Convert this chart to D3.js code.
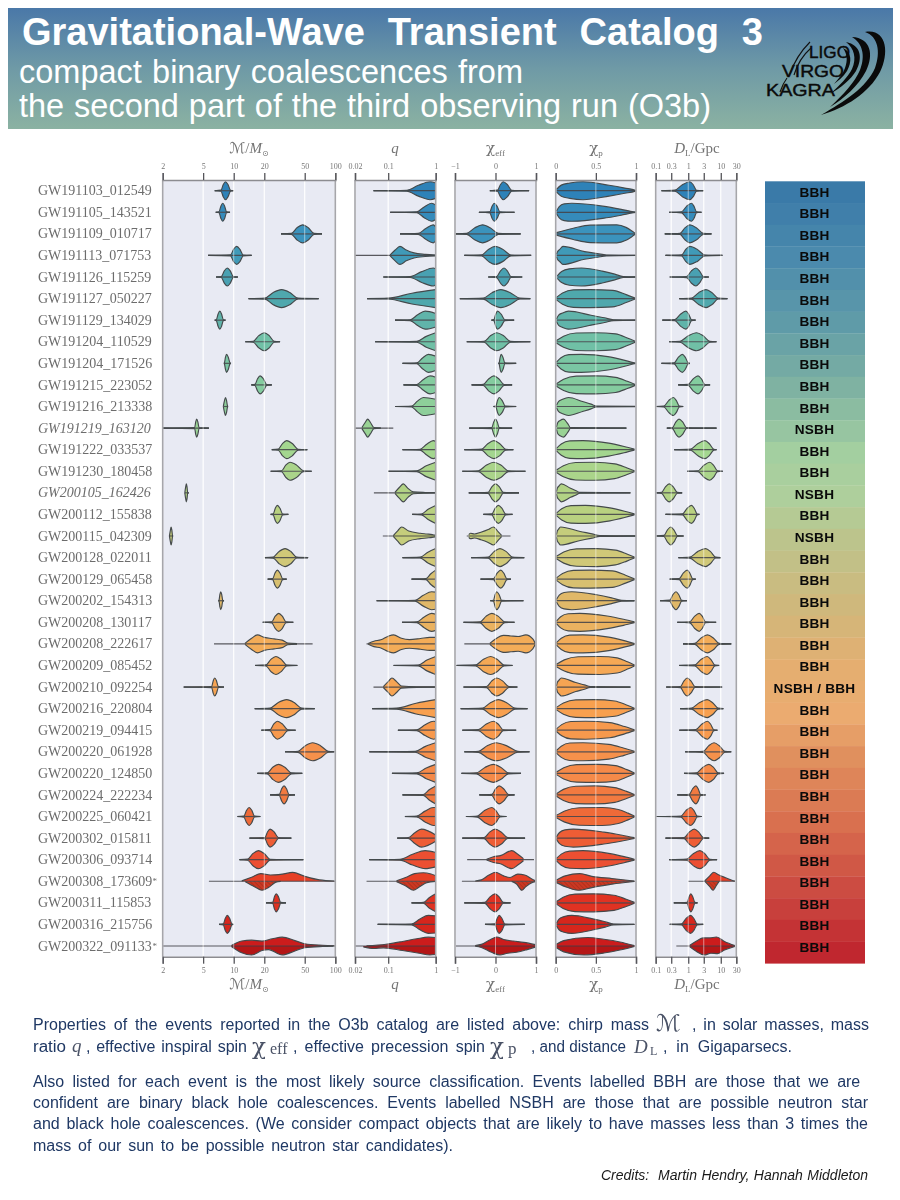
<!DOCTYPE html>
<html><head><meta charset="utf-8">
<script src="https://cdn.jsdelivr.net/npm/d3@7"></script>
<style>html,body{margin:0;padding:0;background:#fff}svg{display:block}</style>
</head><body><svg id="c" width="900" height="1200" viewBox="0 0 900 1200"></svg>
<script>
const events=["GW191103_012549","GW191105_143521","GW191109_010717","GW191113_071753","GW191126_115259","GW191127_050227","GW191129_134029","GW191204_110529","GW191204_171526","GW191215_223052","GW191216_213338","GW191219_163120","GW191222_033537","GW191230_180458","GW200105_162426","GW200112_155838","GW200115_042309","GW200128_022011","GW200129_065458","GW200202_154313","GW200208_130117","GW200208_222617","GW200209_085452","GW200210_092254","GW200216_220804","GW200219_094415","GW200220_061928","GW200220_124850","GW200224_222234","GW200225_060421","GW200302_015811","GW200306_093714","GW200308_173609*","GW200311_115853","GW200316_215756","GW200322_091133*"];
const classes=["BBH","BBH","BBH","BBH","BBH","BBH","BBH","BBH","BBH","BBH","BBH","NSBH","BBH","BBH","NSBH","BBH","NSBH","BBH","BBH","BBH","BBH","BBH","BBH","NSBH / BBH","BBH","BBH","BBH","BBH","BBH","BBH","BBH","BBH","BBH","BBH","BBH","BBH"];
const italicEvents=["GW191219_163120","GW200105_162426"];
// each row: lower whisker, body start, peak, body end, upper whisker
const chirpMass=[[6.5,7.5,8.3,9.3,9.9],[6.65,7.17,7.8,8.5,9.2],[29.2,37,47.7,61.7,74],[5.6,9.3,10.7,12.4,15],[6.7,7.55,8.65,9.9,11],[14,20.3,29.6,43,68.5],[6.5,6.75,7.3,7.9,8.3],[13,15.6,20,25,28.6],[8,8.1,8.5,9.2,9.4],[14.9,16.2,18.2,21.1,23.7],[7.9,7.95,8.3,8.7,8.8],[2,4.13,4.32,4.56,5.7],[23.7,27.5,33.2,43,53],[23.1,29.6,35.8,48.4,58.5],[3.3,3.32,3.42,3.52,3.6],[23.1,24.5,26.9,30.3,34.5],[2.33,2.35,2.42,2.5,2.53],[20.3,24.5,32,41.7,54],[21.6,24.2,26.9,30.3,33.2],[7.06,7.17,7.45,7.8,8.03],[19.3,23.7,27.7,32.7,38.6],[6.4,12.9,17.1,33.2,59.8],[16.2,20.8,26,33.2,42.3],[3.22,6.07,6.5,7.06,8.03],[16.1,22.8,33.2,46.7,62.7],[18.7,22.8,26.9,34,40.7],[32,43,59.8,85.3,97.7],[17.1,21.4,27.5,37,47.3],[22.8,28.1,31.3,35,40.1],[10.9,12.6,14.2,16,18.3],[14.3,20.3,22.8,27.5,36.9],[11.4,13.7,17.5,22.8,48.4],[5.7,13,19,50,100],[20.8,24.2,26.2,29,32.7],[7.17,7.9,8.65,9.6,9.9],[2,10,15,60,100]];
// each row: lower whisker, body start, peak, density at q=1
const massRatio=[[.049,.245,.76,.85],[.11,.4,.82,.8],[.177,.43,.89,.75],[.02,.11,.177,0],[.079,.29,.89,.9],[.036,.1,1,1],[.139,.29,.6,.75],[.053,.4,1,1],[.2,.4,.7,.8],[.21,.4,.76,.85],[.139,.31,.55,.8],[.02,.03,.037,0],[.2,.47,.89,.9],[.1,.4,1,.95],[.05,.139,.208,0],[.32,.5,1,.9],[.077,.128,.192,0],[.2,.47,1,.95],[.31,.625,1,.9],[.057,.367,.82,.95],[.195,.4,.82,.9],[.035,.05,.13,.75],[.13,.43,1,1],[.049,.079,.12,0],[.046,.15,1,1],[.16,.4,.9,.95],[.04,.37,1,1],[.12,.4,1,1],[.2,.55,1,.9],[.225,.4,.89,1],[.155,.265,.5,.35],[.04,.177,.6,.8],[.035,.15,.34,.8],[.31,.55,1,.9],[.06,.31,.7,.95],[.02,.05,1,1]];
const ratioWhiskerHi={11:.128};
const chiEff=[[-.14,.05,.19,.4,.83],[-.41,-.14,-.03,.11,.47],[-.98,-.71,-.32,.07,.62],[-.77,-.34,-.01,.38,.88],[-.18,.03,.21,.38,.66],[-.88,-.3,.13,.6,.86],[-.1,-.04,.05,.23,.46],[-.71,-.28,.03,.37,.86],[.07,.09,.14,.23,.51],[-.59,-.3,-.04,.21,.41],[-.05,.01,.09,.24,.51],[-.65,-.09,0,.09,.41],[-.77,-.34,-.04,.25,.44],[-.82,-.42,-.04,.32,.74],[-.66,-.18,0,.19,.58],[-.3,-.09,.07,.25,.42],[-.71,-.63,-.05,.15,.37],[-.6,-.18,.11,.42,.71],[-.37,-.05,.13,.28,.38],[-.13,-.05,.03,.15,.69],[-.79,-.38,-.09,.23,.47],[-.77,-.14,.3,.98,.98],[-.96,-.49,-.12,.21,.42],[-.79,-.22,.03,.33,.54],[-.86,-.32,.07,.48,.79],[-.82,-.42,-.05,.19,.51],[-.77,-.42,.01,.55,.84],[-.84,-.47,-.05,.32,.63],[-.4,-.09,.09,.32,.47],[-.73,-.45,-.09,.11,.27],[-.82,-.28,-.01,.3,.73],[-.7,-.22,.4,.69,.95],[-.83,-.38,0,.98,.98],[-.77,-.26,-.01,.19,.37],[-.26,-.01,.09,.23,.72],[-.98,-.38,.03,.98,.98]];
// each row: lower whisker, body start, peak, body end, upper whisker, shoulder height
const chiP=[[.01,.01,.34,.99,1,.6],[.01,.01,.2,.97,1,.68],[.01,.1,.76,.99,.99,.72],[.01,.01,.09,.63,1,.42],[.02,.02,.32,.84,1,.66],[.01,.01,.43,.99,.99,.92],[.01,.01,.16,.72,1,.55],[.01,.01,.5,.99,.99,.88],[.01,.01,.32,.98,1,.74],[.01,.01,.5,.99,.99,.84],[.01,.01,.16,.51,.99,.55],[.01,.01,.1,.18,.88,.6],[.01,.01,.34,.98,.98,.72],[.01,.01,.49,.98,.98,.82],[.01,.01,.07,.3,.93,.5],[.01,.01,.37,.98,.98,.72],[.01,.01,.06,.55,1,.5],[.01,.01,.51,.98,.98,.82],[.01,.01,.43,.98,.98,.92],[.01,.01,.2,.82,.98,.66],[.01,.01,.3,.98,.98,.7],[.01,.01,.34,.98,.98,.75],[.01,.01,.55,.98,.98,.84],[.01,.01,.07,.43,.93,.5],[.01,.01,.49,.98,.98,.85],[.01,.01,.37,.98,.98,.84],[.01,.01,.34,.98,.98,.82],[.01,.01,.51,.98,.98,.86],[.01,.01,.49,.98,.98,.82],[.01,.01,.58,.98,.98,.78],[.01,.01,.22,.98,.98,.66],[.01,.01,.34,.98,.98,.7],[.01,.01,.3,.98,.98,.6],[.01,.01,.47,.98,.98,.84],[.01,.01,.2,.72,.98,.62],[.01,.01,.36,.98,.98,.72]];
const distance=[[.15,.39,1.12,1.8,2.9],[.26,.625,1.26,1.8,2.56],[.19,.56,1.12,2.9,5.18],[.2,.625,1.12,3.24,11.2],[.27,.89,1.72,2.9,4.3],[.53,1.26,3.5,8.3,16],[.16,.39,.85,1.26,1.68],[.26,.56,1.8,4.6,7.4],[.15,.37,.66,1,1.12],[.49,1,2,3.24,4.7],[.107,.18,.35,.53,.7],[.22,.33,.52,.89,7.4],[.37,1.18,3.24,6.1,7.4],[.93,2,4.6,7.9,11.5],[.107,.153,.26,.46,.65],[.2,.67,1.26,1.88,2.2],[.107,.18,.29,.46,.72],[.5,1.12,3.4,6.9,10],[.27,.53,.93,1.36,1.7],[.136,.27,.42,.625,.91],[.46,1.12,2.17,3.4,7.2],[.69,1.6,3.9,8.9,21],[.52,1.6,3.8,6.55,8.9],[.21,.58,.93,1.6,11],[.56,1.26,3.8,8.3,12],[.53,1.72,3.9,6.1,7.9],[.8,2.9,6.2,13.3,21],[.74,1.8,4.3,8.3,12.6],[.46,1.07,1.72,2.4,3.4],[.107,.6,1.2,1.88,2.6],[.2,.75,1.53,2.9,4.4],[.26,.89,2.28,4.6,7.7],[1,3.24,6.1,26,27],[.36,.93,1.2,1.6,1.93],[.27,.625,1.18,1.88,2.9],[.43,1.12,5,26,27]];
// rows whose density is not a single hump: [value, relative height]
const massShapes={21:{top:[[12.9,.05],[15,.62],[17.1,1],[20,.72],[25,.55],[30,.42],[34,.1],[42,.03]]},
32:{top:[[12,.04],[15,.45],[18.5,.85],[23,.7],[30,.8],[38,.98],[50,.55],[70,.15],[98,.03]],bottom:[[13,.05],[16,.6],[19,1],[22,.7],[26,.1],[29,.02]]},
35:{top:[[9.5,.05],[12,.55],[15,.65],[19,.55],[24,.8],[30,.98],[40,.6],[50,.25],[75,.08],[98,.02]],bottom:[[9.5,.05],[12,.75],[15,1],[19,.5],[22,.4],[30,1],[40,.55],[50,.2],[75,.05],[95,.01]]}};
const ratioShapes={3:{top:[[.11,.05],[.14,.6],[.177,1],[.24,.6],[.35,.28],[.6,.12],[1,.04]]},
11:{top:[[.028,.06],[.033,.65],[.037,1],[.042,.65],[.05,.06],[.07,.01]]},
14:{top:[[.139,.05],[.175,.65],[.208,1],[.26,.5],[.34,.1],[.6,.04],[1,.02]]},
16:{top:[[.128,.05],[.16,.6],[.192,1],[.27,.55],[.47,.3],[.65,.22],[.85,.15],[.95,.1],[1,.05]]},
21:{top:[[.038,.05],[.05,.3],[.07,.45],[.1,.85],[.13,1],[.19,.62],[.28,.48],[.48,.6],[.75,.72],[1,.72]]},
23:{top:[[.079,.05],[.1,.6],[.12,1],[.15,.6],[.19,.12],[.4,.03],[1,.02]]},
32:{top:[[.15,.05],[.24,.45],[.36,.85],[.55,.95],[.8,.8],[1,.62]],bottom:[[.15,.05],[.24,.55],[.34,1],[.45,.65],[.65,.15],[1,.02]]},
35:{top:[[.035,.02],[.09,.2],[.2,.5],[.4,.8],[.7,.98],[1,.95]],bottom:[[.03,.1],[.05,.28],[.08,.2],[.2,.5],[.45,.8],[.75,1],[1,.95]]}};
const effShapes={16:{top:[[-.66,.15],[-.62,.3],[-.52,.22],[-.36,.42],[-.18,.72],[-.05,1],[.07,.45],[.15,.06]]},
21:{top:[[-.14,.05],[0,.55],[.2,.95],[.38,.88],[.56,.82],[.75,1],[.92,.55],[.98,.08]]},
31:{top:[[-.22,.04],[-.05,.32],[.14,.48],[.33,.92],[.4,1],[.55,.6],[.69,.12]]},
32:{top:[[-.5,.03],[-.35,.15],[-.16,.7],[0,1],[.2,.6],[.36,.42],[.55,.8],[.72,.7],[.92,.2],[.98,.08]],bottom:[[.4,.01],[.52,.3],[.65,1],[.75,.6],[.9,.15],[.98,.06]]},
35:{top:[[-.5,.05],[-.35,.18],[-.13,.7],[.03,1],[.2,.72],[.44,.55],[.7,.4],[.98,.15]],bottom:[[-.5,.02],[-.35,.16],[-.1,.7],[.11,1],[.3,.8],[.52,.7],[.78,.4],[.98,.12]]}};
const precessShapes={32:{top:[[.01,.15],[.12,.6],[.3,.85],[.45,.55],[.7,.3],[.98,.03]],bottom:[[.01,.15],[.12,.6],[.28,1],[.45,.7],[.7,.32],[.98,.03]]},
35:{top:[[.01,.2],[.1,.6],[.4,.95],[.6,.75],[.8,.45],[.98,.05]],bottom:[[.01,.2],[.1,.65],[.35,1],[.6,.78],[.8,.45],[.98,.05]]}};
const distShapes={32:{top:[[3.24,.05],[4.6,.6],[6.1,1],[8.5,.72],[14,.4],[22,.12],[27,.02]],bottom:[[3.3,.04],[4.6,.6],[5.8,1],[7.5,.4],[8.9,.02]]},
35:{top:[[1.12,.08],[1.8,.55],[2.9,.9],[4.5,.9],[7.4,1],[13,.5],[27,.05]],bottom:[[1.12,.08],[1.8,.6],[3.1,1],[5,.8],[8,.85],[13,.45],[27,.05]]}};
const massTicks=[2,5,10,20,50,100], ratioTicks=[.02,.1,1], effTicks=[-1,0,1], precessTicks=[0,.5,1], distTicks=[.1,.3,1,3,10,30];
const violinStops=["#2e82b8","#3a93bd","#50a8ad","#6fc0a6","#84cc9f","#a3d68f","#b9d180","#d0c878","#e0b868","#f3ac58","#f8a050","#f58a48","#ef6a38","#ec5030","#e03020","#cc1a1c"];
const violinStopAt=[0,2,5,7,9,12,15,17,19,21,24,27,29,31,33,35];
const bandStops=["#3a7aa8","#4b8aad","#5f9ba8","#7fb2a2","#a3cfa0","#aecf9c","#bcc48c","#cfb87c","#e5ae70","#ebab70","#e0905e","#d9704f","#cc4c42","#c0272f"];
const bandStopAt=[0,3,6,9,12,14,16,19,22,24,26,29,32,35];
const bodyLines=[
 [[33,"Properties of the events reported in the O3b catalog are listed above: chirp mass",616,1030],[692,", in solar masses, mass",177,1030]],
 [[33,"ratio",33,1052],[86,", effective inspiral spin",161,1052],[293,", effective precession spin",192,1052],[531,", and distance",95,1052],[663,", in Gigaparsecs.",129,1052]],
 [[33,"Also listed for each event is the most likely source classification.   Events labelled BBH are those that we are",835,1087]],
 [[33,"confident are binary black hole coalescences. Events labelled NSBH are those that are possible neutron star",835,1108]],
 [[33,"and black hole coalescences. (We consider compact objects that are likely to have masses less than 3 times the",835,1129]],
 [[33,"mass of our sun to be possible neutron star candidates).",420,1151]]];

function fit(sel,w){
  const n=sel.node().getComputedTextLength();
  const sp=(sel.text().match(/ /g)||[]).length;
  if(n>w-.2||sp===0){ sel.attr("textLength",w).attr("lengthAdjust","spacingAndGlyphs"); }
  else sel.attr("word-spacing",(w-n)/sp);
  return sel;
}
const svg=d3.select("#c");
const defs=svg.append("defs");
const hg=defs.append("linearGradient").attr("id","hdr").attr("x1",0).attr("y1",0).attr("x2",0).attr("y2",1);
hg.append("stop").attr("offset",0).attr("stop-color","#4a78a8");
hg.append("stop").attr("offset",.5).attr("stop-color","#6f9aa6");
hg.append("stop").attr("offset",1).attr("stop-color","#8bb2a2");
const pat=defs.append("pattern").attr("id","hatch").attr("width",3).attr("height",3).attr("patternUnits","userSpaceOnUse").attr("patternTransform","rotate(-45)");
pat.append("line").attr("x1",0).attr("y1",0).attr("x2",0).attr("y2",3).attr("stroke","#5a1208").attr("stroke-width",1).attr("opacity",.45);
defs.append("filter").attr("id","soft").attr("x","-2%").attr("y","-2%").attr("width","104%").attr("height","104%")
 .append("feGaussianBlur").attr("stdDeviation",.42);

// header
svg.append("rect").attr("x",8).attr("y",8).attr("width",885).attr("height",121).attr("fill","url(#hdr)");
const hdr=svg.append("g").attr("fill","#fff").attr("font-family","Liberation Sans, Arial, sans-serif");
fit(hdr.append("text").attr("x",22).attr("y",45).attr("font-size",38).attr("font-weight",700).text("Gravitational-Wave Transient Catalog 3"),741);
fit(hdr.append("text").attr("x",19).attr("y",83).attr("font-size",32.5).text("compact binary coalescences from"),504);
fit(hdr.append("text").attr("x",19).attr("y",117).attr("font-size",32.5).text("the second part of the third observing run (O3b)"),692);
// logo
const logo=svg.append("g").attr("fill","#0a0a0a");
[ "M865,32C886,28 890,52 880,72C869,93 845,108 821,115C845,101 866,88 875,68C881,52 878,36 865,32Z",
  "M852,37C871,38 874,55 866,71C858,86 845,98 830,107C843,95 855,82 860,70C866,55 862,43 852,37Z",
  "M846,42C861,45 863,58 856,71C851,79 841,88 830,94C840,85 848,77 852,69C857,58 854,48 846,42Z",
  "M843,48C852,52 852,62 847,71C843,77 838,81 834,84C839,78 843,74 845,68C848,60 847,54 843,48Z"
].forEach(d=>logo.append("path").attr("d",d));
[ "M790,74C794,62 801,51 810,42","M794,75C797,65 803,55 811,48","M780,92C782,86 784,82 787,78"].forEach(d=>
  svg.append("path").attr("d",d).attr("fill","none").attr("stroke","#111").attr("stroke-width",1.1));
[["LIGO",809,57.5,41],["VIRGO",782,76.5,62],["KAGRA",766,96,69]].forEach(t=>
  logo.append("text").attr("x",t[1]).attr("y",t[2]).attr("font-family","Liberation Sans, Arial, sans-serif").attr("font-size",16.2).attr("textLength",t[3]).attr("lengthAdjust","spacingAndGlyphs").attr("stroke","#0a0a0a").attr("stroke-width",.4).text(t[0]));

// chart
const y=d3.scalePoint().domain(d3.range(events.length)).range([190.7,946]);
const H=9, plotTop=180, plotBottom=956.7;
const panels=[
 {data:chirpMass,shapes:massShapes,scale:d3.scaleLog().domain([2,100]).range([162.7,335.3]),ticks:massTicks,mid:.68,fmt:d=>d+""},
 {data:massRatio,shapes:ratioShapes,whiskerHi:ratioWhiskerHi,scale:d3.scaleLog().domain([.02,1]).range([355,435.7]),ticks:ratioTicks,mid:.6,fmt:d=>d+"",kind:"q"},
 {data:chiEff,shapes:effShapes,scale:d3.scaleLinear().domain([-1,1]).range([455,536]),ticks:effTicks,mid:.66,fmt:d=>d<0?"\u2212"+(-d):d+""},
 {data:chiP,shapes:precessShapes,scale:d3.scaleLinear().domain([0,1]).range([555.7,636]),ticks:precessTicks,mid:.7,fmt:d=>d+"",kind:"p"},
 {data:distance,shapes:distShapes,scale:d3.scaleLog().domain([.1,30]).range([655.7,736.3]),ticks:distTicks,mid:.66,fmt:d=>d+""}
];
const rowColor=d3.scaleLinear().domain(violinStopAt).range(violinStops).interpolate(d3.interpolateRgb);
const bandColor=d3.scaleLinear().domain(bandStopAt).range(bandStops).interpolate(d3.interpolateRgb);
const chart=svg.append("g").attr("filter","url(#soft)");

function pointsFor(p,i){
  const s=p.scale,r=p.data[i];
  const clean=a=>a.filter((d,k)=>k===0||d[0]-a[k-1][0]>.4);
  if(p.shapes[i]){
    const t=p.shapes[i].top.map(d=>[s(d[0]),d[1]]);
    const b=(p.shapes[i].bottom||p.shapes[i].top).map(d=>[s(d[0]),d[1]]);
    return {top:clean(t),bot:clean(b)};
  }
  if(p.kind==="q"){
    const [wl,bl,pk,end]=r;
    const pts=[[s(wl),0],[s(bl),.05],[(s(bl)+s(pk))/2,p.mid],[s(pk),1],[s(1),end]];
    const c=clean(pts);return {top:c,bot:c};
  }
  const [wl,bl,pk,bh,wh,m]=r;
  const mm=m===undefined?p.mid:m;
  let pts;
  if(p.kind==="p"){
    const a=s(bl),b=s(pk),c=s(bh);
    pts=[[s(wl),.14],[a+(b-a)*.18,Math.min(.62,mm+.02)],[(a+b)/2,Math.min(.97,mm+.25)],[b,1],[(b+c)/2,mm],[b+(c-b)*.8,mm*.48],[c,.05],[s(wh),.01]];
  } else {
    pts=[[s(wl),0],[s(bl),.06],[(s(bl)+s(pk))/2,mm],[s(pk),1],[(s(pk)+s(bh))/2,mm],[s(bh),.05],[s(wh),0]];
  }
  const c=clean(pts);return {top:c,bot:c};
}

panels.forEach(p=>{
  const g=chart.append("g");
  const [x0,x1]=p.scale.range();
  g.append("rect").attr("x",x0).attr("y",plotTop).attr("width",x1-x0).attr("height",plotBottom-plotTop).attr("fill","#e8eaf3");
  g.selectAll("line.g0").data(p.ticks).join("line").attr("x1",d=>p.scale(d)).attr("x2",d=>p.scale(d)).attr("y1",plotTop).attr("y2",plotBottom).attr("stroke","#fff").attr("stroke-width",1);
  events.forEach((e,i)=>{
    const cy=y(i),pt=pointsFor(p,i),col=rowColor(i),r=p.data[i];
    const areaT=d3.area().x(d=>d[0]).y0(cy).y1(d=>cy-d[1]*H).curve(d3.curveMonotoneX);
    const areaB=d3.area().x(d=>d[0]).y0(cy).y1(d=>cy+d[1]*H).curve(d3.curveMonotoneX);
    const lineT=d3.line().x(d=>d[0]).y(d=>cy-d[1]*H).curve(d3.curveMonotoneX);
    const lineB=d3.line().x(d=>d[0]).y(d=>cy+d[1]*H).curve(d3.curveMonotoneX);
    const split=p.shapes[i]&&p.shapes[i].bottom&&(i===32||i===35);
    g.append("path").attr("d",areaT(pt.top)).attr("fill",col);
    g.append("path").attr("d",areaB(pt.bot)).attr("fill",split?d3.color(col).darker(.35):col);
    if(i===32) g.append("path").attr("d",areaB(pt.bot)).attr("fill","url(#hatch)");
    const wl=p.scale(r[0]);
    const wh=p.scale(p.kind==="q"?(p.whiskerHi[i]||1):r[4]);
    g.append("line").attr("x1",wl).attr("x2",wh).attr("y1",cy).attr("y2",cy).attr("stroke","#3f3f44").attr("stroke-width",1.2).attr("opacity",.85);
    g.append("path").attr("d",lineT(pt.top)).attr("fill","none").attr("stroke","#444a4c").attr("stroke-width",1.15);
    g.append("path").attr("d",lineB(pt.bot)).attr("fill","none").attr("stroke","#444a4c").attr("stroke-width",1.15);
  });
  g.selectAll("line.g1").data(p.ticks).join("line").attr("x1",d=>p.scale(d)).attr("x2",d=>p.scale(d)).attr("y1",plotTop).attr("y2",plotBottom).attr("stroke","#fff").attr("stroke-width",1).attr("opacity",.5);
  [x0,x1].forEach(x=>g.append("line").attr("x1",x).attr("x2",x).attr("y1",plotTop).attr("y2",plotBottom).attr("stroke","#a6a6aa").attr("stroke-width",1.6));
  [[d3.axisTop,plotTop],[d3.axisBottom,plotBottom]].forEach(([ax,yy])=>{
    const a=g.append("g").attr("transform",`translate(0,${yy})`).call(ax(p.scale).tickValues(p.ticks).tickFormat(p.fmt).tickSizeOuter(0).tickSize(7).tickPadding(4));
    a.select(".domain").attr("stroke","#8c8c90").attr("stroke-width",1.6);
    a.selectAll(".tick line").attr("stroke","#55555a").attr("stroke-width",1.3);
    a.selectAll("text").attr("fill","#777").attr("font-size",8).attr("font-family","Liberation Serif, serif");
  });
});

// row labels
const rowG=chart.append("g").attr("font-family","Liberation Serif, serif").attr("fill","#6c6c6c").attr("font-size",14);
events.forEach((e,i)=>{
  const name=e.replace("*","");
  rowG.append("text").attr("x",38).attr("y",y(i)+4.6).attr("font-style",italicEvents.includes(name)?"italic":null).text(name);
  if(e.endsWith("*")) rowG.append("text").attr("x",152.5).attr("y",y(i)+2.5).attr("font-size",9).text("*");
});
// axis titles
const serif="Liberation Serif, DejaVu Serif, serif";
function axisTitle(x,yy,parts){
  const t=chart.append("text").attr("x",x).attr("y",yy).attr("text-anchor","middle").attr("fill","#747474").attr("font-family",serif).attr("font-size",15);
  parts.forEach(q=>{const s=t.append("tspan").text(q.t);if(q.i)s.attr("font-style","italic");if(q.dy)s.attr("dy",q.dy);if(q.fs)s.attr("font-size",q.fs);if(q.f)s.attr("font-family",q.f);});
}
[[153],[989]].forEach(([yy])=>{
  axisTitle(249,yy,[{t:"\u2133",f:"DejaVu Sans"},{t:"/"},{t:"M",i:1},{t:"\u2299",dy:3,fs:8,f:"DejaVu Sans"}]);
  axisTitle(395,yy,[{t:"q",i:1}]);
  axisTitle(495.5,yy,[{t:"\u03c7",f:"DejaVu Serif"},{t:"eff",dy:3,fs:9}]);
  axisTitle(596,yy,[{t:"\u03c7",f:"DejaVu Serif"},{t:"p",dy:3,fs:9}]);
  axisTitle(697,yy,[{t:"D",i:1},{t:"L",dy:3,fs:9},{t:"/Gpc",dy:-3}]);
});

// classification column
const band=d3.scaleBand().domain(d3.range(classes.length)).range([181.3,963.3]);
const bandG=svg.append("g");
classes.forEach((c,i)=>{
  bandG.append("rect").attr("x",765).attr("y",band(i)).attr("width",100).attr("height",band.bandwidth()+.3).attr("fill",bandColor(i));
  bandG.append("text").attr("x",814.5).attr("y",y(i)+6).attr("text-anchor","middle").attr("font-family","Liberation Sans, Arial, sans-serif").attr("font-weight",700).attr("font-size",13.6).attr("letter-spacing",.25).attr("fill","#0a0a0a").text(c);
});

// body text
const bodyG=svg.append("g").attr("font-family","Liberation Sans, Arial, sans-serif").attr("font-size",16).attr("fill","#1f3864").style("white-space","pre");
bodyLines.forEach(line=>line.forEach(([x,t,w,yy])=>fit(bodyG.append("text").attr("x",x).attr("y",yy).text(t),w)));
const sym=svg.append("g").attr("fill","#4a5266").attr("font-family",serif);
[["\u2133",656,1031,23,"DejaVu Sans",null],["q",72,1052,19,serif,"italic"],["\u03c7",252,1054,23,"DejaVu Serif",null],["eff",270,1054,16,serif,null],["\u03c7",490,1054,23,"DejaVu Serif",null],["p",508,1054,17,serif,null],["D",634,1053,19,serif,"italic"],["L",650,1055,12,serif,null]].forEach(([t,x,yy,fs,f,st])=>
  sym.append("text").attr("x",x).attr("y",yy).attr("font-size",fs).attr("font-family",f).attr("font-style",st).text(t));
fit(svg.append("text").attr("x",601).attr("y",1180).attr("font-family","Liberation Sans, Arial, sans-serif").attr("font-style","italic").attr("font-size",14).attr("fill","#1a1a1a").style("white-space","pre").text("Credits:  Martin Hendry, Hannah Middleton"),267);
</script></body></html>
